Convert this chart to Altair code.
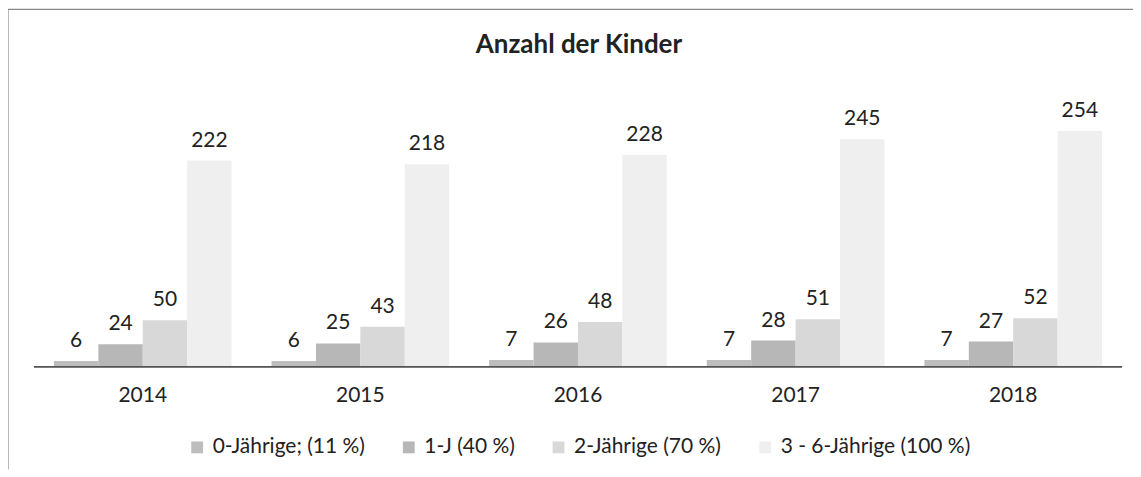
import altair as alt
import pandas as pd

years = ["2014", "2015", "2016", "2017", "2018"]
groups = ["0-Jährige; (11 %)", "1-J (40 %)", "2-Jährige (70 %)", "3 - 6-Jährige (100 %)"]
v0 = [6, 6, 7, 7, 7]
v1 = [24, 25, 26, 28, 27]
v2 = [50, 43, 48, 51, 52]
v3 = [222, 218, 228, 245, 254]
colors = ["#bdbdbd", "#b7b7b7", "#d8d8d8", "#efefef"]
title_text = "Anzahl der Kinder"

rows = []
for i, y in enumerate(years):
    for g, vals in zip(groups, [v0, v1, v2, v3]):
        rows.append({"year": y, "group": g, "value": vals[i]})
df = pd.DataFrame(rows)
ydf = pd.DataFrame({"year": years})

FONT = "Lato"
W, H = 1127, 462
yscale = alt.Scale(domain=[-111, 386], nice=False, zero=False)
xscale = alt.Scale(domain=years, range=[26, 1116], paddingInner=0, paddingOuter=0)
xoff = alt.Scale(domain=groups, paddingInner=0, paddingOuter=0.45)

base = alt.Chart(df)
bars = base.mark_bar().encode(
    x=alt.X("year:N", scale=xscale, axis=None),
    xOffset=alt.XOffset("group:N", scale=xoff, sort=groups),
    y=alt.Y("value:Q", scale=yscale, axis=None),
    y2=alt.datum(0),
    color=alt.Color("group:N", sort=groups,
                    scale=alt.Scale(domain=groups, range=colors),
                    legend=alt.Legend(title=None, orient="none", direction="horizontal",
                                      legendX=179, legendY=429, symbolType="square",
                                      symbolSize=140, symbolStrokeWidth=0,
                                      labelFont=FONT, labelFontSize=21, labelColor="#222",
                                      labelLimit=0, labelOffset=5, columnPadding=33)),
)
labels = base.mark_text(font=FONT, fontSize=21, color="#222", baseline="alphabetic", dy=-14).encode(
    x=alt.X("year:N", scale=xscale, axis=None),
    xOffset=alt.XOffset("group:N", scale=xoff, sort=groups),
    y=alt.Y("value:Q", scale=yscale, axis=None),
    text="value:Q",
)
baseline = alt.Chart(ydf).mark_rule(color="#555", strokeWidth=1.2).encode(
    x=alt.value(26), x2=alt.value(1116), y=alt.Y("z:Q", scale=yscale, axis=None)
).transform_calculate(z="0")
yearlab = alt.Chart(ydf).mark_text(font=FONT, fontSize=21, color="#222", baseline="middle").encode(
    x=alt.X("year:N", scale=xscale, axis=None),
    y=alt.Y("z:Q", scale=yscale, axis=None),
    text="year:N",
).transform_calculate(z="-32")
title = alt.Chart(ydf).mark_text(font=FONT, fontSize=26, fontWeight="bold", color="#222",
                                 text=title_text, baseline="alphabetic").encode(
    x=alt.value(572), y=alt.value(45)
).transform_filter(alt.datum.year == "2014")
frame_top = alt.Chart(ydf).mark_rule(color="#888", strokeWidth=1.2).encode(
    x=alt.value(0), x2=alt.value(W), y=alt.value(1)
).transform_filter(alt.datum.year == "2014")
frame_left = alt.Chart(ydf).mark_rule(color="#888", strokeWidth=1.2).encode(
    x=alt.value(0), y=alt.value(1), y2=alt.value(H)
).transform_filter(alt.datum.year == "2014")

chart = alt.layer(frame_top, frame_left, bars, labels, baseline, yearlab, title).properties(
    width=W, height=H, padding=0, autosize=alt.AutoSizeParams(type="none"),
    background="white"
).configure_view(stroke=None)

chart.save("out.html", embed_options={"renderer": "svg", "actions": False})
